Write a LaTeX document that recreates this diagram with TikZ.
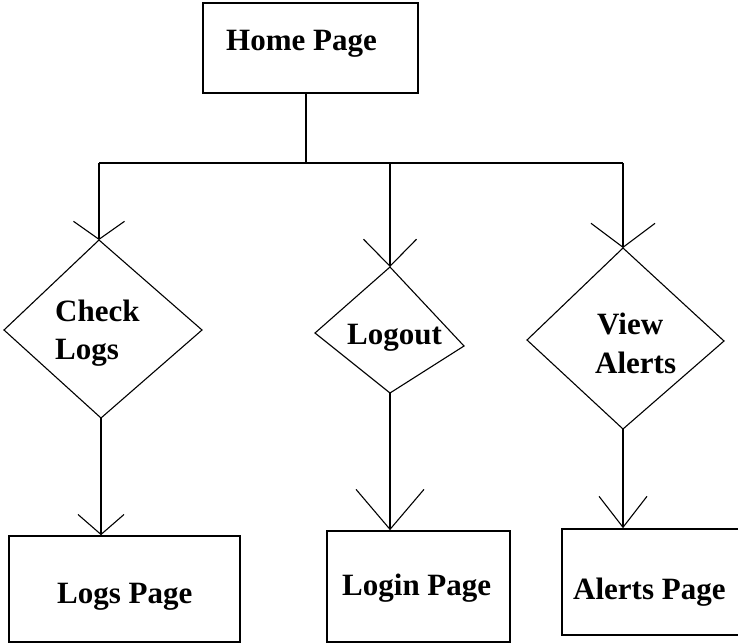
\documentclass[tikz,border=0pt]{standalone}
\usepackage{fontspec}
\setmainfont{Liberation Serif}
\usetikzlibrary{arrows.meta}
\tikzset{
  boxshape/.style={draw, line width=1.6pt, inner sep=0pt},
  lbl/.style={inner sep=0pt, anchor=base west, font=\fontsize{31}{34}\selectfont\bfseries},
  conn/.style={line width=1.5pt},
  dshape/.style={line width=1.1pt, line join=miter},
  barb/.style 2 args={conn, -{Straight Barb[length=#1pt, width=#2pt, line width=1.1pt]}}
}
\begin{document}
\begin{tikzpicture}[x=1pt,y=-1pt]
\useasboundingbox (0,0) rectangle (738,643);
\clip (0,0) rectangle (738,643);
\fill[white] (0,0) rectangle (738,643);

% boxes
\node[boxshape, minimum width=215pt, minimum height=90pt] (home) at (310.5,48) {};
\node[boxshape, minimum width=231pt, minimum height=106pt] (logs) at (124.5,589) {};
\node[boxshape, minimum width=183pt, minimum height=111pt] (login) at (418.5,586.5) {};
\node[boxshape, minimum width=188pt, minimum height=106pt] (alerts) at (656,582) {};

% box texts
\node[lbl] (homet) at (226,50) {Home Page};
\node[lbl] (logst) at (57,603) {Logs Page};
\node[lbl] (logint) at (342,595) {Login Page};
\node[lbl] (alertst) at (573,599) {Alerts Page};

% diamonds
\coordinate (clt) at (99,240);  \coordinate (clr) at (202,330);
\coordinate (clb) at (101,418); \coordinate (cll) at (4,330);
\coordinate (lot) at (390,267); \coordinate (lor) at (464,346);
\coordinate (lob) at (390,393); \coordinate (lol) at (315,333);
\coordinate (vat) at (623,248); \coordinate (var) at (724,341);
\coordinate (vab) at (623,429); \coordinate (val) at (527,340);
\draw[dshape] (clt) -- (clr) -- (clb) -- (cll) -- cycle;
\draw[dshape] (lot) -- (lor) -- (lob) -- (lol) -- cycle;
\draw[dshape] (vat) -- (var) -- (vab) -- (val) -- cycle;

% diamond texts
\node[lbl] (check) at (55,321) {Check};
\node[lbl] (logsw) at (55,359) {Logs};
\node[lbl] (logout) at (347,344) {Logout};
\node[lbl] (view) at (597,334) {View};
\node[lbl] (alertsw) at (595,373) {Alerts};

% connectors
\coordinate (hj) at (306,163);
\coordinate (bl) at (99,163);
\coordinate (bm) at (390,163);
\coordinate (br) at (623,163);
\draw[conn] (hj |- home.south) -- (hj);
\draw[conn] (bl) -- (br);
\draw[barb={18}{51}] (bl) -- (clt);
\draw[barb={27}{53}] (bm) -- (lot);
\draw[barb={24}{64}] (br) -- (vat);
\draw[barb={20}{46}] (clb) -- (clb |- logs.north);
\draw[barb={40}{68}] (lob) -- (lob |- login.north);
\draw[barb={31}{48}] (vab) -- (vab |- alerts.north);
\end{tikzpicture}
\end{document}
